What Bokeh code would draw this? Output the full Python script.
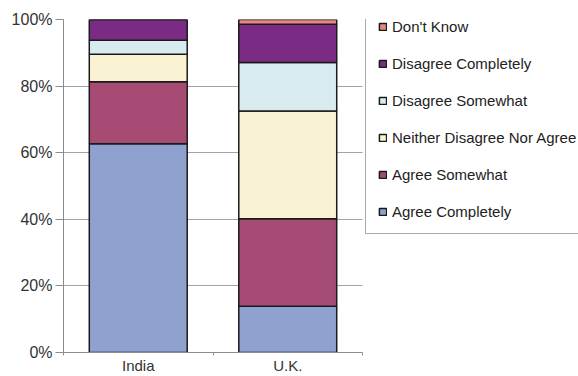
from bokeh.plotting import figure
from bokeh.models import (ColumnDataSource, Legend, LegendItem, FixedTicker,
                          NumeralTickFormatter, Range1d)
from bokeh.embed import file_html
from bokeh.resources import INLINE

categories = ["India", "U.K."]
series_names = ["Agree Completely", "Agree Somewhat", "Neither Disagree Nor Agree",
                "Disagree Somewhat", "Disagree Completely", "Don't Know"]
agree_completely = [62.7, 13.9]
agree_somewhat = [18.6, 26.3]
neither = [8.3, 32.3]
disagree_somewhat = [4.2, 14.6]
disagree_completely = [6.2, 11.5]
dont_know = [0.0, 1.4]
y_ticks = [0, 0.2, 0.4, 0.6, 0.8, 1.0]
colors = ["#8FA1CF", "#A64C74", "#FAF3D3", "#D8ECF0", "#7A2C85", "#E8877F"]

series = [agree_completely, agree_somewhat, neither, disagree_somewhat,
          disagree_completely, dont_know]
keys = ["s%d" % i for i in range(len(series))]
xs = [i + 0.5 for i in range(len(categories))]
data = {"x": xs}
for k, s in zip(keys, series):
    data[k] = [v / 100.0 for v in s]
source = ColumnDataSource(data)

n = len(categories)
# frame spans to right edge of canvas so the legend is not clipped;
# axis and grid are bounded to the category extent
px_per_unit = 149.5
x_end = (578 - 63) / px_per_unit

p = figure(width=578, height=376, output_backend="svg", toolbar_location=None,
           x_range=Range1d(0, x_end), y_range=Range1d(0, 1),
           min_border_left=63, min_border_right=0, min_border_top=19,
           min_border_bottom=22)
p.outline_line_color = None
p.background_fill_color = "white"
p.border_fill_color = "white"

renderers = p.vbar_stack(keys, x="x", width=0.655, source=source, color=colors,
                         line_color="#1a1a1a", line_width=1.5)

p.xgrid.grid_line_color = None
p.ygrid.grid_line_color = "#a3a3a3"
p.ygrid.grid_line_width = 1
p.ygrid.ticker = FixedTicker(ticks=y_ticks)
p.ygrid.cross_bounds = (0, n)

p.yaxis.ticker = FixedTicker(ticks=y_ticks)
p.yaxis.formatter = NumeralTickFormatter(format="0%")
p.yaxis.major_tick_out = 8
p.yaxis.major_tick_in = 0
p.yaxis.minor_tick_line_color = None
p.yaxis.axis_line_color = "#8c8c8c"
p.yaxis.major_tick_line_color = "#8c8c8c"
p.yaxis.major_label_text_font = "Liberation Sans"
p.yaxis.major_label_text_font_size = "16px"
p.yaxis.major_label_text_color = "#333333"
p.yaxis.major_label_standoff = 3

p.xaxis.bounds = (0, n)
p.xaxis.ticker = FixedTicker(ticks=xs, minor_ticks=list(range(n + 1)))
p.xaxis.major_label_overrides = {x: c for x, c in zip(xs, categories)}
p.xaxis.major_tick_out = 0
p.xaxis.major_tick_in = 0
p.xaxis.minor_tick_out = 3
p.xaxis.minor_tick_in = 0
p.xaxis.minor_tick_line_color = "#8c8c8c"
p.xaxis.axis_line_color = "#8c8c8c"
p.xaxis.major_label_text_font = "Liberation Sans"
p.xaxis.major_label_text_font_size = "15px"
p.xaxis.major_label_text_color = "#333333"
p.xaxis.major_label_standoff = 1

items = [LegendItem(label=s, renderers=[r]) for s, r in zip(series_names, renderers)]
items.reverse()
legend = Legend(items=items, location=(302, 118), orientation="vertical",
                glyph_width=9, glyph_height=9, label_height=20, spacing=17,
                padding=12, margin=0, label_standoff=5,
                label_text_font="Liberation Sans", label_text_font_size="15px",
                label_text_color="#222222", border_line_color="#555555",
                border_line_width=1, background_fill_color="white",
                background_fill_alpha=1.0)
p.add_layout(legend, "center")

open("out.html", "w").write(file_html(p, INLINE))
